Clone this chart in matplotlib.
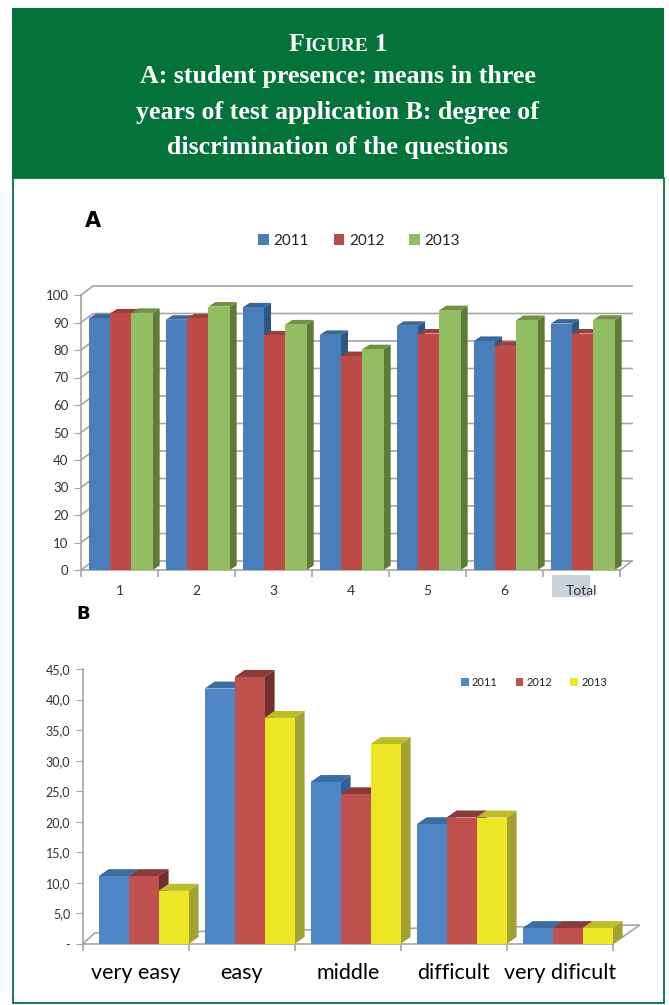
import matplotlib
matplotlib.use('Agg')
import matplotlib.pyplot as plt
from matplotlib.patches import Rectangle, Polygon, Patch
from matplotlib.ticker import FixedLocator, FuncFormatter

# figure size in pixels
W, H = 669, 1005

years = ['2011', '2012', '2013']

# chart A: student presence (%)
a_labels = ['1', '2', '3', '4', '5', '6', 'Total']
a_2011 = [91.5, 91.0, 95.5, 85.5, 88.8, 83.3, 89.6]
a_2012 = [93.3, 91.5, 85.3, 77.8, 86.0, 81.5, 86.0]
a_2013 = [93.5, 95.8, 89.3, 80.3, 94.5, 90.9, 91.0]

# chart B: degree of discrimination
b_labels = ['very easy', 'easy', 'middle', 'difficult', 'very dificult']
b_2011 = [11.1, 41.8, 26.5, 19.6, 2.6]
b_2012 = [11.1, 43.7, 24.5, 20.7, 2.6]
b_2013 = [8.7, 37.0, 32.7, 20.7, 2.6]

GREEN = '#03733a'
plt.rcParams['font.family'] = ['Lato', 'DejaVu Sans']

# (front, top, side) colours of the fake 3d columns
a_colors = [('#4a7ebb', '#3a6899', '#2d5782'),
            ('#be4b48', '#9a3f3c', '#873634'),
            ('#92bd63', '#71923f', '#5f7b38')]
b_colors = [('#4f86c6', '#3a6ea0', '#30609a'),
            ('#c0504d', '#8b3a3a', '#722f2f'),
            ('#ece624', '#bdbd2a', '#a1a232')]


def fx(px):
    return px / W


def fy(py):
    return 1 - py / H


def px_to_data(ax, dxp, dyp):
    # convert a pixel offset into data units for this axes
    pos = ax.get_position()
    x0, x1 = ax.get_xlim()
    y0, y1 = ax.get_ylim()
    return dxp * (x1 - x0) / (pos.width * W), dyp * (y1 - y0) / (pos.height * H)


def columns3d(ax, series, colors, start, width, depth_px):
    dx, dy = px_to_data(ax, *depth_px)
    n = len(series[0])
    for i in range(n):
        for k, vals in enumerate(series):
            x0 = i + start + k * width
            x1 = x0 + width
            h = vals[i]
            front, top, side = colors[k]
            ax.add_patch(Polygon([(x1, 0), (x1 + dx, dy), (x1 + dx, h + dy), (x1, h)],
                                 closed=True, fc=side, ec='none', zorder=2, clip_on=False))
            ax.add_patch(Polygon([(x0, h), (x1, h), (x1 + dx, h + dy), (x0 + dx, h + dy)],
                                 closed=True, fc=top, ec='none', zorder=2, clip_on=False))
        for k, vals in enumerate(series):
            x0 = i + start + k * width
            ax.bar(x0, vals[i], width, align='edge', color=colors[k][0], zorder=3)


def legend_row(ax, colors, x, y, size):
    handles = [Patch(facecolor=c[0], edgecolor='none', label=lab) for c, lab in zip(colors, years)]
    ax.legend(handles=handles, ncol=3, frameon=False, loc='center',
              bbox_to_anchor=(fx(x), fy(y)), bbox_transform=fig.transFigure,
              fontsize=size, handlelength=0.7, handleheight=0.7, handletextpad=0.3,
              columnspacing=1.6, labelcolor='#222222')


fig = plt.figure(figsize=(W / 100, H / 100), dpi=100)

# header and framed panel
fig.patches.append(Rectangle((fx(12), fy(178)), fx(652), 170 / H, transform=fig.transFigure,
                             fc=GREEN, ec='none', zorder=-2))
fig.patches.append(Rectangle((fx(12.5), fy(1003)), fx(651), (1003 - 178) / H,
                             transform=fig.transFigure, fc='white', ec=GREEN, lw=1.3, zorder=-2))

serif = ['Liberation Serif', 'DejaVu Serif']
title_lines = ['A: student presence: means in three',
               'years of test application B: degree of',
               'discrimination of the questions']
for j, line in enumerate(title_lines):
    fig.text(0.505, fy(77 + 35 * j), line, ha='center', va='center', color='white',
             fontsize=18.6, fontweight='bold', family=serif)

# "FIGURE 1" in small caps, pieces laid out on one baseline
pieces = [('F', 18.6), ('IGURE', 14), (' 1', 18.6)]
texts = [fig.text(0, fy(51), s, color='white', fontsize=sz, fontweight='bold',
                  family=serif, va='baseline') for s, sz in pieces]
r = fig.canvas.get_renderer()
widths = [t.get_window_extent(r).width for t in texts]
xpos = 0.505 * W - sum(widths) / 2
for t, w in zip(texts, widths):
    t.set_x(xpos / W)
    xpos += w

# ---------------- chart A ----------------
axA = fig.add_axes([fx(81), fy(570), 539 / W, 275 / H])
axA.set_facecolor('none')
axA.set_xlim(-0.5, 6.5)
axA.set_ylim(0, 100)
wdx, wdy = px_to_data(axA, 12, 9)
for yv in range(0, 101, 10):
    axA.plot([-0.5, -0.5 + wdx, 6.5 + wdx], [yv, yv + wdy, yv + wdy],
             color='#a6a6a6', lw=1.2, zorder=1, clip_on=False)
axA.plot([6.5, 6.5 + wdx], [0, wdy], color='#a6a6a6', lw=1.2, zorder=1, clip_on=False)
columns3d(axA, [a_2011, a_2012, a_2013], a_colors, -0.4, 0.277, (7, 4.5))

for s in ['top', 'right']:
    axA.spines[s].set_visible(False)
for s in ['left', 'bottom']:
    axA.spines[s].set_color('#a6a6a6')
    axA.spines[s].set_linewidth(1.2)
axA.set_yticks(range(0, 101, 10))
axA.tick_params(axis='y', length=5, color='#a6a6a6', labelsize=9.5, labelcolor='#333333', pad=4)
axA.set_xticks(range(len(a_labels)))
axA.set_xticklabels(a_labels)
axA.xaxis.set_minor_locator(FixedLocator([i - 0.5 for i in range(len(a_labels) + 1)]))
axA.tick_params(axis='x', which='major', length=0, labelsize=10, labelcolor='#333333', pad=11)
axA.tick_params(axis='x', which='minor', length=5, color='#a6a6a6', width=1.2)
# grey selection box behind "Total"
axA.add_patch(Rectangle((5.62, -0.098), 0.49, 0.08, transform=axA.get_xaxis_transform(),
                        fc='#cad2dd', ec='none', clip_on=False, zorder=0))

bold = ['DejaVu Sans']
fig.text(fx(85), fy(221), 'A', fontsize=15, fontweight='bold', va='center', color='black',
         family=bold)
legend_row(axA, a_colors, 359, 241, 11)

# ---------------- chart B ----------------
axB = fig.add_axes([fx(82.7), fy(944), 530 / W, 275 / H])
axB.set_facecolor('none')
axB.set_xlim(-0.5, 4.5)
axB.set_ylim(0, 45)
lx, ly = px_to_data(axB, 12, 11)
rx, ry = px_to_data(axB, 27, 19)
axB.add_patch(Polygon([(-0.5, 0), (4.5, 0), (4.5 + rx, ry), (-0.5 + lx, ly)], closed=True,
                      fc='white', ec='#a6a6a6', lw=1.2, zorder=1, clip_on=False))
columns3d(axB, [b_2011, b_2012, b_2013], b_colors, -0.35, 0.283, (10, 7))

for s in ['top', 'right', 'bottom']:
    axB.spines[s].set_visible(False)
axB.spines['left'].set_color('#a6a6a6')
axB.spines['left'].set_linewidth(1.2)
axB.set_yticks(range(0, 46, 5))
axB.yaxis.set_major_formatter(FuncFormatter(
    lambda v, p: '-' if v == 0 else f'{v:.1f}'.replace('.', ',')))
axB.tick_params(axis='y', length=5, color='#a6a6a6', labelsize=9, labelcolor='#333333', pad=4)
axB.set_xticks(range(len(b_labels)))
axB.set_xticklabels(b_labels)
axB.xaxis.set_minor_locator(FixedLocator([i - 0.5 for i in range(len(b_labels) + 1)]))
axB.tick_params(axis='x', which='major', length=0, labelsize=15.5, labelcolor='black', pad=14)
axB.tick_params(axis='x', which='minor', length=5, color='#a6a6a6', width=1.2)

fig.text(fx(76), fy(614), 'B', fontsize=13, fontweight='bold', va='center', color='black',
         family=bold)
legend_row(axB, b_colors, 534, 682, 8)

fig.savefig('out.png', dpi=100)
